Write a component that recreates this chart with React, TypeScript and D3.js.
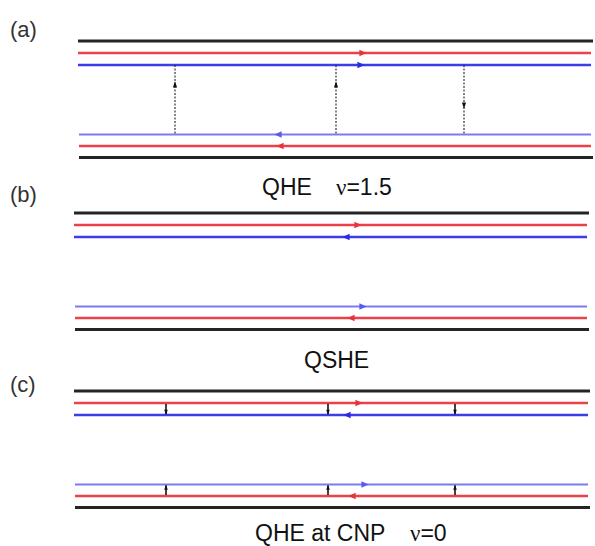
import React from "react";
import * as d3 from "d3";

const W = 595;
const H = 546;

// Panels
const panelLabels = ["(a)", "(b)", "(c)"];
const panelTops = [41, 213, 391];
const panelLabelBaselines = [37, 202, 392];
const panelXStart = [78, 74, 74];
const panelXEnd = [593, 589, 590];

// Edge channel lines in each panel (offset from the top black line)
const lineNames = ["edgeTop", "redTop", "blueTop", "blueBot", "redBot", "edgeBot"];
const lineOffsets = [0, 12, 24, 93.5, 105, 116.5];
const lineColors = ["#111111", "#e8323c", "#2b2be6", "#5a5aee", "#e8323c", "#111111"];
const lineWidths = [3.2, 2.4, 2.6, 2.2, 2.6, 3.2];

// Captions
const captionMain = ["QHE", "QSHE", "QHE at CNP"];
const captionMainX = [262, 304, 255];
const captionNu = ["\u03bd=1.5", "", "\u03bd=0"];
const captionNuX = [336, 0, 410];
const captionBaselines = [195, 368, 541];

// Chirality markers: [panel, line index, x, direction (+1 right, -1 left)]
const markerPanel = [0, 0, 0, 0, 1, 1, 1, 1, 2, 2, 2, 2];
const markerLine = [1, 2, 3, 4, 1, 2, 3, 4, 1, 2, 3, 4];
const markerX = [363, 361, 278, 280, 358, 346, 363, 351, 359, 347, 365, 352];
const markerDir = [1, 1, -1, -1, 1, -1, 1, -1, 1, -1, 1, -1];

// Dashed backscattering arrows in (a): x, direction (+1 up, -1 down)
const dashX = [175, 336, 464];
const dashDir = [1, 1, -1];

// Short inter-channel arrows in (c)
const tickX = [166, 328, 455];

export default function App() {
  const x = d3.scaleLinear().domain([0, W]).range([0, W]);
  const yOf = (p: number, li: number) => panelTops[p] + lineOffsets[li];
  const font = "'Liberation Sans', Arial, sans-serif";
  const serif = "'Liberation Serif', 'Times New Roman', serif";

  const tri = (cx: number, cy: number, dir: number, size: number) => {
    const s = size;
    return dir > 0
      ? `M${cx + s},${cy} L${cx - s},${cy - s * 0.9} L${cx - s},${cy + s * 0.9} Z`
      : `M${cx - s},${cy} L${cx + s},${cy - s * 0.9} L${cx + s},${cy + s * 0.9} Z`;
  };
  const vtri = (cx: number, cy: number, dir: number, size: number) => {
    const s = size;
    return dir > 0
      ? `M${cx},${cy - s * 1.4} L${cx - s * 0.8},${cy + s} L${cx + s * 0.8},${cy + s} Z`
      : `M${cx},${cy + s * 1.4} L${cx - s * 0.8},${cy - s} L${cx + s * 0.8},${cy - s} Z`;
  };

  return (
    <svg
      width={W}
      height={H}
      style={{ position: "absolute", left: 0, top: 0, background: "#fff" }}
    >
      <rect x={0} y={0} width={W} height={H} fill="#fff" />
      {panelLabels.map((lab, p) => (
        <g key={lab}>
          <text
            x={10}
            y={panelLabelBaselines[p]}
            fontFamily={font}
            fontSize={22}
            fill="#333"
          >
            {lab}
          </text>
          {lineNames.map((n, li) => (
            <line
              key={n}
              x1={x(panelXStart[p] + (li >= 3 ? 1 : 0))}
              x2={x(panelXEnd[p] - (li > 0 && li < 5 ? 2 : 0))}
              y1={yOf(p, li)}
              y2={yOf(p, li)}
              stroke={lineColors[li]}
              strokeWidth={lineWidths[li]}
              strokeOpacity={li === 3 ? 0.8 : 0.92}
            />
          ))}
          <text
            x={captionMainX[p]}
            y={captionBaselines[p]}
            fontFamily={font}
            fontSize={23}
            fill="#111"
          >
            {captionMain[p]}
          </text>
          {captionNu[p] && (
            <text
              x={captionNuX[p]}
              y={captionBaselines[p]}
              fontFamily={font}
              fontSize={23}
              fill="#111"
            >
              <tspan fontFamily={serif}>{captionNu[p].slice(0, 1)}</tspan>
              {captionNu[p].slice(1)}
            </text>
          )}
        </g>
      ))}

      {markerX.map((mx, i) => (
        <path
          key={"m" + i}
          d={tri(x(mx), yOf(markerPanel[i], markerLine[i]), markerDir[i], 3.6)}
          fill={lineColors[markerLine[i]]}
        />
      ))}

      {dashX.map((dx, i) => {
        const yTop = yOf(0, 2);
        const yBot = yOf(0, 3);
        const ay = dashDir[i] > 0 ? 85 : 105;
        return (
          <g key={"d" + i}>
            <line
              x1={x(dx)}
              x2={x(dx)}
              y1={yTop}
              y2={yBot}
              stroke="#222"
              strokeWidth={1.1}
              strokeDasharray="2,1.5"
            />
            <path d={vtri(x(dx), ay, dashDir[i], 2.6)} fill="#111" />
          </g>
        );
      })}

      {tickX.map((tx, i) => (
        <g key={"t" + i}>
          <line
            x1={x(tx)}
            x2={x(tx)}
            y1={yOf(2, 1) + 1}
            y2={yOf(2, 2) - 1}
            stroke="#111"
            strokeWidth={1.6}
          />
          <path d={vtri(x(tx), yOf(2, 2) - 3, -1, 2.2)} fill="#111" />
          <line
            x1={x(tx)}
            x2={x(tx)}
            y1={yOf(2, 3) + 1}
            y2={yOf(2, 4) - 1}
            stroke="#111"
            strokeWidth={1.6}
          />
          <path d={vtri(x(tx), yOf(2, 3) + 3, 1, 2.2)} fill="#111" />
        </g>
      ))}
    </svg>
  );
}
